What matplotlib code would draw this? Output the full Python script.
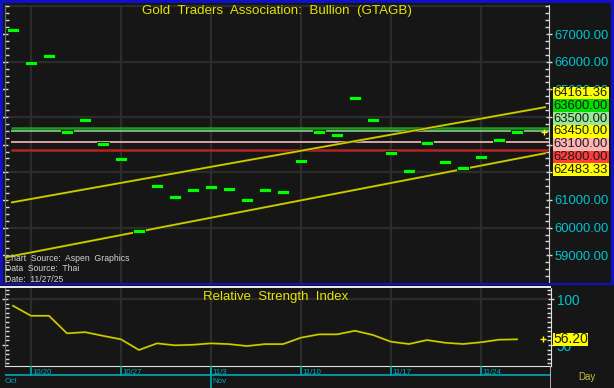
import matplotlib
matplotlib.use('Agg')
import matplotlib.pyplot as plt
from matplotlib.patches import Rectangle
import matplotlib.patheffects as pe
from matplotlib.ticker import MultipleLocator, FixedLocator
import numpy as np

plt.rcParams['font.family'] = ['Liberation Sans', 'DejaVu Sans']

# ---------------- data ----------------
dates = ['10/17', '10/20', '10/21', '10/22', '10/23', '10/24',
         '10/27', '10/28', '10/29', '10/30', '10/31',
         '11/3', '11/4', '11/5', '11/6', '11/7',
         '11/10', '11/11', '11/12', '11/13', '11/14',
         '11/17', '11/18', '11/19', '11/20', '11/21',
         '11/24', '11/25', '11/26']
prices = [67145, 65964, 66192, 63449, 63884, 63040,
          62482, 59873, 61493, 61094, 61359,
          61457, 61395, 60997, 61359, 61301,
          62399, 63449, 63352, 64681, 63884,
          62689, 62062, 63051, 62363, 62170,
          62555, 63171, 63450]
rsi = [92.7, 81.8, 81.8, 62.7, 64.0, 60.0,
       56.2, 44.6, 51.8, 49.7, 50.3,
       51.8, 51.0, 48.9, 51.0, 51.0,
       58.0, 61.6, 61.6, 65.5, 60.9,
       53.6, 51.1, 55.4, 52.5, 51.1,
       53.0, 55.8, 56.2]
week_labels = ['10/20', '10/27', '11/3', '11/10', '11/17', '11/24']
month_labels = ['Oct', 'Nov']
month_starts = ['10/17', '11/3']
levels = [63600, 63500, 63100, 62800]
level_colors = ['#1f9a1f', '#8ccc8c', '#d8a4a4', '#b42222']
level_widths = [1.8, 1.2, 1.4, 1.8]
upper_channel_x = [-0.06, 29.56]
upper_channel_y = [60913, 64355]
lower_channel_x = [-0.44, 29.56]
lower_channel_y = [58921, 62689]
price_ticks = [59000, 60000, 61000, 62000, 63000, 64000, 65000, 66000, 67000]
hidden_ticks = [62000, 63000, 64000]   # covered by the value boxes
label_values = [64161.36, 63600.00, 63500.00, 63450.00, 63100.00, 62800.00, 62483.33]
label_colors = ['#ffff00', '#00dd00', '#98e898', '#ffff00', '#ffb4b4', '#ff3c3c', '#ffff00']
rsi_ticks = [50, 100]
title = 'Gold  Traders  Association:  Bullion  (GTAGB)'
rsi_title = 'Relative  Strength  Index'
source_lines = ['Chart  Source:  Aspen  Graphics', 'Data  Source:  Thai', 'Date:  11/27/25']

# ---------------- layout ----------------
W, H = 614, 388
BG = '#161616'
GRID = '#2c2c2c'
TICK = '#d8d8d8'
CYAN = '#00c4d0'
YEL = '#e4e400'

fig = plt.figure(figsize=(W / 100, H / 100), dpi=100, facecolor=BG)

def fx(px):
    return px / W

def fy(py):
    return 1 - py / H

x = np.arange(len(dates))
xl = (-0.444, 29.78)

# main axes
ax = fig.add_axes([fx(5), fy(282.5), fx(544), (282.5 - 5) / H], facecolor=BG)
ax.set_xlim(*xl)
ax.set_ylim(58015, 68051)
week_idx = [dates.index(d) for d in week_labels]
for xi in week_idx:
    ax.axvline(xi, color=GRID, lw=1.6, zorder=0)
for gy in [60000, 62000, 64000, 66000, 68000]:
    ax.axhline(gy, color=GRID, lw=1.6, zorder=0)

for lv, c, lw in zip(levels, level_colors, level_widths):
    ax.hlines(lv, -0.1, xl[1], color=c, lw=lw, zorder=2)

for cx, cy in [(upper_channel_x, upper_channel_y), (lower_channel_x, lower_channel_y)]:
    ax.plot(cx, cy, color='#cccc00', lw=1.3, zorder=3,
            path_effects=[pe.Stroke(linewidth=2.0, foreground='#2a2a00'), pe.Normal()])

rect = [(-2.5, -1.0), (2.5, -1.0), (2.5, 1.0), (-2.5, 1.0), (-2.5, -1.0)]
ax.plot(x, prices, ls='none', marker=rect, ms=8.2, mfc='#00ff00', mec='#0a2a0a',
        mew=0.7, zorder=4)
ax.plot([29.5], [prices[-1]], ls='none', marker='+', ms=4, color='#ffff00', mew=1.0, zorder=5)

ax.yaxis.set_major_locator(FixedLocator(price_ticks))
ax.yaxis.set_minor_locator(MultipleLocator(250))
ax.set_yticklabels(['' if v in hidden_ticks else f'{v:.2f}' for v in price_ticks])
ax.tick_params(axis='y', which='both', left=True, right=True, labelleft=False,
               labelright=True, colors=TICK, labelcolor=CYAN, labelsize=9.4)
ax.tick_params(axis='y', which='major', direction='inout', length=5, width=1, pad=1.5)
ax.tick_params(axis='y', which='minor', direction='in', length=3, width=1)
ax.set_xticks([])
for s in ['top', 'bottom']:
    ax.spines[s].set_visible(False)
ax.spines['right'].set_color('#d0d0d0')
ax.spines['left'].set_color('#707070')

ax.text(0.5, 0.977, title, transform=ax.transAxes, ha='center', va='center',
        color=YEL, fontsize=9.6)
for i, line in enumerate(source_lines):
    ax.text(fx(5), fy(258.3 + i * 10.4), line, transform=fig.transFigure, ha='left', va='center',
            color='#d4d4d4', fontsize=6.2)

# rsi axes
ax2 = fig.add_axes([fx(5), fy(366), fx(546), (366 - 288) / H], facecolor=BG)
ax2.set_xlim(xl[0], xl[1] + 0.11)
ax2.set_ylim(27.2, 112)
for xi in week_idx:
    ax2.axvline(xi, color=GRID, lw=1.6, zorder=0)
ax2.axhline(100, color=GRID, lw=1.6, zorder=0)
ax2.plot(x, rsi, color='#cccc00', lw=1.2, zorder=3,
         path_effects=[pe.Stroke(linewidth=1.9, foreground='#2a2a00'), pe.Normal()])
ax2.plot([29.45], [rsi[-1]], ls='none', marker='+', ms=4, color='#ffff00', mew=1.0, zorder=5)
ax2.yaxis.set_major_locator(FixedLocator(rsi_ticks))
ax2.yaxis.set_minor_locator(MultipleLocator(5))
ax2.set_yticklabels([str(v) for v in rsi_ticks])
ax2.tick_params(axis='y', which='both', left=True, right=True, labelleft=False,
                labelright=True, colors=TICK, labelcolor=CYAN, labelsize=9.8)
ax2.tick_params(axis='y', which='major', direction='inout', length=5, width=1, pad=1.5)
ax2.tick_params(axis='y', which='minor', direction='in', length=3, width=1)
ax2.set_xticks([])
ax2.spines['top'].set_visible(False)
for s in ['right', 'bottom']:
    ax2.spines[s].set_color('#e0e0e0')
ax2.spines['left'].set_color('#707070')
ax2.text(fx(276), fy(297), rsi_title, transform=fig.transFigure, ha='center', va='center',
         color=YEL, fontsize=9.5)

# date strip
ax3 = fig.add_axes([fx(5), 0, fx(546), 22 / H], facecolor=BG)
ax3.set_xlim(xl[0], xl[1] + 0.11)
ax3.set_ylim(22, 0)
ax3.axis('off')
ax3.axhline(9.3, color='#00aab4', lw=1.2)
for xi, lab in zip(week_idx, week_labels):
    ax3.plot([xi, xi], [0, 9.3], color='#00aab4', lw=1.2)
    ax3.text(xi + 0.1, 6.0, lab, color='#00aab4', fontsize=5.6, ha='left', va='center')
for m, ms_ in zip(month_labels, month_starts):
    xi = dates.index(ms_)
    if xi > 0:
        ax3.plot([xi, xi], [0, 22], color='#00aab4', lw=1.2)
    ax3.text(max(xi, 0) + 0.1 - (0.55 if xi == 0 else 0), 15.5, m, color='#00aab4',
             fontsize=5.8, ha='left', va='center')
ax3.axvline(xl[1] + 0.11, color='#c8c8c8', lw=1.2)
fig.text(fx(587), fy(377), 'Day', color='#c8c040', fontsize=7, ha='center', va='center')

# price label boxes
for k, (v, c) in enumerate(zip(label_values, label_colors)):
    yc = 131.3 + (k - 3) * 12.8
    fig.add_artist(Rectangle((fx(552.5), fy(yc + 6.4)), fx(56), 12.8 / H,
                             transform=fig.transFigure, fc=c, ec='none', zorder=10))
    fig.text(fx(553.5), fy(yc), f'{v:.2f}', color='#1c1c1c', fontsize=9.4,
             ha='left', va='center', zorder=11)
# rsi label box
fig.add_artist(Rectangle((fx(552.5), fy(345.8)), fx(35), 13 / H,
                         transform=fig.transFigure, fc='#ffff00', ec='none', zorder=10))
fig.text(fx(553.5), fy(339.3), f'{rsi[-1]:.2f}', color='#1c1c1c', fontsize=10,
         ha='left', va='center', zorder=11)

# borders
fig.add_artist(Rectangle((0, fy(2.5)), 1, 2.5 / H, transform=fig.transFigure,
                         fc='#1010c8', ec='none', zorder=12))
fig.add_artist(Rectangle((0, fy(284.5)), fx(2.5), (284.5) / H, transform=fig.transFigure,
                         fc='#1010c8', ec='none', zorder=12))
fig.add_artist(Rectangle((fx(610.5), fy(284.5)), fx(3.5), 284.5 / H, transform=fig.transFigure,
                         fc='#1010c8', ec='none', zorder=12))
fig.add_artist(Rectangle((0, fy(285)), 1, 2.5 / H, transform=fig.transFigure,
                         fc='#1010c8', ec='none', zorder=12))
fig.add_artist(Rectangle((0, fy(288)), fx(551), 1.6 / H, transform=fig.transFigure,
                         fc='#e8e8e8', ec='none', zorder=12))

fig.savefig('out.png', dpi=100, facecolor=BG)
